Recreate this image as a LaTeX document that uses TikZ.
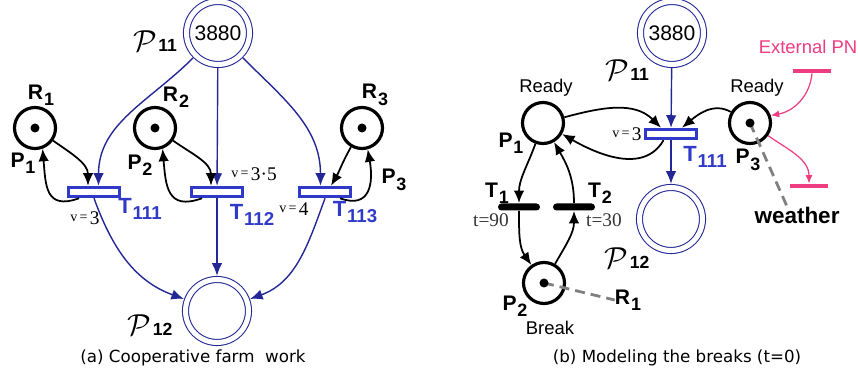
\documentclass[tikz,border=0pt]{standalone}
\usepackage{fontspec}
\usepackage{graphicx}
\usepackage{xcolor}
\setmainfont{Liberation Sans}
\newfontfamily\serf{Liberation Serif}
\newfontfamily\capf{DejaVu Sans}
\usetikzlibrary{arrows.meta}
\definecolor{navy}{RGB}{36,40,150}
\definecolor{tblue}{RGB}{48,58,200}
\definecolor{hotpink}{RGB}{238,60,130}
\newcommand{\sbx}[2]{#1\kern0.04em\raisebox{-0.3em}{\scalebox{0.85}{#2}}}
\newcommand{\Pcal}[1]{{\fontsize{19}{19}\selectfont$\mathcal{P}$}\kern0.1em{\fontsize{10}{10}\selectfont\bfseries #1}}
\newcommand{\vv}[1]{\raisebox{0.35ex}{\fontsize{8}{8}\selectfont v\,=\,}#1}

\begin{document}
\begin{tikzpicture}[x=0.2mm, y=0.2mm,
  place/.style={circle, draw, fill=white, line width=1.8pt, minimum size=8.2mm, inner sep=0},
  dplace/.style={circle, draw=navy, double, double distance=1mm, line width=0.6pt, minimum size=12.6mm, inner sep=0, outer sep=0.75mm, font=\fontsize{12}{12}\selectfont},
  trans/.style={rectangle, draw=tblue, fill=white, line width=2pt, minimum width=10.2mm, minimum height=1.8mm, inner sep=0},
  bar/.style={rectangle, fill=black, rounded corners=0.7mm, minimum width=8.4mm, minimum height=1.4mm, inner sep=0},
  pbar/.style={rectangle, fill=hotpink, minimum width=7.6mm, minimum height=0.8mm, inner sep=0},
  arc/.style={-{Latex[length=2.5mm,width=2.1mm]}, line width=1pt},
  barc/.style={arc, draw=navy, line width=0.8pt},
  parc/.style={-{Latex[length=1.7mm,width=1.4mm]}, draw=hotpink, line width=0.7pt},
  gline/.style={draw=black!50, line width=1.6pt, dash pattern=on 2mm off 1.2mm},
  lab/.style={inner sep=0, font=\fontsize{12}{12}\selectfont\bfseries},
  tlab/.style={inner sep=0, text=tblue, font=\fontsize{12.5}{12}\selectfont\bfseries},
  rlab/.style={inner sep=0, font=\fontsize{10.5}{12}\selectfont},
  vlab/.style={inner sep=0, font=\serf\fontsize{11}{11}\selectfont},
  captext/.style={inner sep=0, font=\capf\fontsize{9.5}{10}\selectfont}]
\useasboundingbox (0,0) rectangle (858,379);

\node[dplace] (pa11) at (218,346) {3880};
\node[inner sep=0] (pa11l) at (155,338) {\Pcal{11}};
\node[place] (ra1) at (35,251) {};
\node[place] (ra2) at (155,251) {};
\node[place] (ra3) at (362,251) {};
\fill (ra1) circle (0.9mm) (ra2) circle (0.9mm) (ra3) circle (0.9mm);
\node[lab] (ra1l) at (41,284) {\sbx{R}{1}};
\node[lab] (ra2l) at (176,282) {\sbx{R}{2}};
\node[lab] (ra3l) at (375,284) {\sbx{R}{3}};
\node[lab] (pa1l) at (23,216) {\sbx{P}{1}};
\node[lab] (pa2l) at (140,214) {\sbx{P}{2}};
\node[lab] (pa3l) at (394,199) {\sbx{P}{3}};
\node[trans] (ta111) at (94,187) {};
\node[trans] (ta112) at (217,187) {};
\node[trans] (ta113) at (325,187) {};
\node[tlab] (ta111l) at (140,170) {\sbx{T}{111}};
\node[tlab] (ta112l) at (252,164) {\sbx{T}{112}};
\node[tlab] (ta113l) at (355,167) {\sbx{T}{113}};
\node[vlab] (va1) at (85,161) {\vv{3}};
\node[vlab] (va2) at (254,205) {\vv{3·5}};
\node[vlab] (va3) at (294,170) {\vv{4}};
\node[dplace] (pa12) at (217,68) {};
\node[inner sep=0] (pa12l) at (150,54) {\Pcal{12}};
\node[captext] (capa) at (193,21) {(a) Cooperative farm~ work};

\draw[barc] (pa11) to[out=-135,in=90] ([xshift=0.9mm]ta111.north);
\draw[barc] (pa11) -- (ta112);
\draw[barc] (pa11) to[out=-45,in=90] ([xshift=-0.9mm]ta113.north);
\draw[arc] (ra1) to[out=-35,in=90] ([xshift=-1.2mm]ta111.north);
\draw[arc] (ra2) to[out=-35,in=90] ([xshift=-1.2mm]ta112.north);
\draw[arc] (ra3) to[out=-120,in=60] ([xshift=1.2mm]ta113.north);
\draw[arc] ([xshift=-3mm]ta111.south) to[out=-160,in=-85,looseness=1.5] (ra1.-70);
\draw[arc] ([xshift=-3mm]ta112.south) to[out=-160,in=-85,looseness=1.5] (ra2.-70);
\draw[arc] ([xshift=3mm]ta113.south) to[out=-20,in=-80,looseness=1.5] (ra3.-75);
\draw[barc] (ta111.south) to[out=-70,in=160] (pa12);
\draw[barc] (ta112) -- (pa12);
\draw[barc] (ta113.south) to[out=-110,in=20] (pa12);

\node[dplace] (pb11) at (672,346) {3880};
\node[inner sep=0] (pb11l) at (627,309) {\Pcal{11}};
\node[place] (pb1) at (543,256) {};
\node[place] (pb3) at (750,256) {};
\node[place] (pb2) at (544,96) {};
\node[rlab] (rdy1) at (546,291) {Ready};
\node[rlab] (rdy3) at (757,291) {Ready};
\node[lab] (pb1l) at (511,236) {\sbx{P}{1}};
\node[lab] (pb3l) at (748,219) {\sbx{P}{3}};
\node[lab] (pb2l) at (515,73) {\sbx{P}{2}};
\node[rlab] (brk) at (550,51) {Break};
\node[trans] (tb111) at (671,245) {};
\node[tlab] (tb111l) at (705,222) {\sbx{T}{111}};
\node[vlab] (vb1) at (627,245) {\vv{3}};
\node[dplace] (pb12) at (671,160) {};
\node[inner sep=0] (pb12l) at (627,121) {\Pcal{12}};
\node[bar] (t1) at (519,172) {};
\node[bar] (t2) at (574,172) {};
\node[lab] (t1l) at (497,186) {\sbx{T}{1}};
\node[lab] (t2l) at (600,186) {\sbx{T}{2}};
\node[vlab, text=black!80] (t1d) at (491,159) {t=90};
\node[vlab, text=black!80] (t2d) at (604,159) {t=30};
\node[lab] (r1b) at (628,79) {\sbx{R}{1}};
\node[rlab, text=hotpink] (ext) at (808,332) {External PN};
\node[pbar] (pin) at (812,308) {};
\node[pbar] (pout) at (809,193) {};
\node[inner sep=0, font=\fontsize{12.8}{13}\selectfont\bfseries] (wth) at (797,164) {weather};
\node[captext] (capb) at (677,21) {(b) Modeling the breaks (t=0)};

\draw[barc] (pb11) -- (tb111);
\draw[barc] (tb111) -- (pb12);
\draw[arc] (pb1) to[out=15,in=135] ([xshift=-2mm]tb111.north);
\draw[arc] (pb3) to[out=150,in=40] ([xshift=2.2mm]tb111.north);
\draw[arc] ([xshift=-1.5mm]tb111.south) to[out=-120,in=-30] (pb1.-30);
\draw[arc] (pb1) to[out=-110,in=90] (t1.north);
\draw[arc] (t1.south) to[out=-90,in=125] (pb2);
\draw[arc] (pb2) to[out=60,in=-90] (t2.south);
\draw[arc] (t2.north) to[out=90,in=-60] (pb1);
\draw[parc] (pin.south) to[out=-95,in=10] (pb3.20);
\draw[parc] (pb3.-35) to[out=-35,in=90] (pout.north);
\draw[gline] (pb3.center) -- ([xshift=-2mm]wth.north);
\draw[gline] (pb2.center) -- (r1b.west);
\fill (pb3) circle (0.9mm) (pb2) circle (0.9mm);
\end{tikzpicture}
\end{document}
